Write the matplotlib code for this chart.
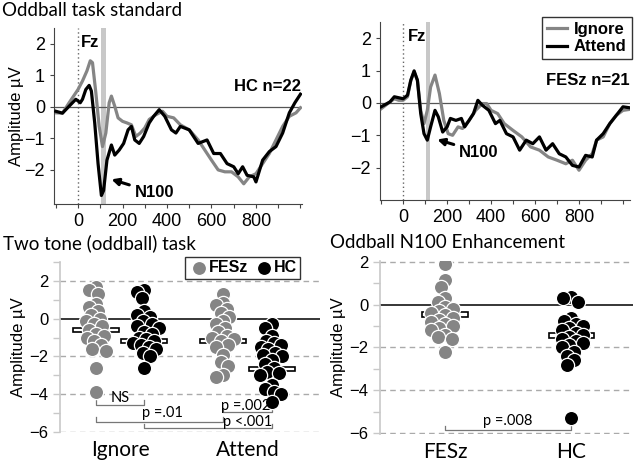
import matplotlib
matplotlib.use("Agg")
import matplotlib.pyplot as plt
import numpy as np
from matplotlib.patches import Rectangle

plt.rcParams["font.family"] = ["Liberation Sans", "DejaVu Sans"]

# ---- ERP waveforms at Fz (time in ms, amplitude in uV) ----
hc_ign_t = [-100, -70, -40, 0, 20, 40, 55, 65, 80, 95, 110, 125, 140, 150, 165, 180, 200, 220, 240,
            260, 280, 300, 320, 350, 380, 400, 430, 460, 500, 540, 570, 600, 630, 660, 690, 720, 745,
            770, 800, 830, 860, 890, 920, 950, 980, 1000]
hc_ign_v = [-0.19, -0.2, 0.13, 0.55, 0.82, 1.14, 1.46, 1.4, 0.45, -0.62, -1.26, -0.83, 0.13, 0.34, 0.02,
            -0.35, -0.46, -0.51, -0.57, -0.94, -0.83, -0.67, -0.4, -0.25, -0.14, -0.3, -0.35, -0.57,
            -0.73, -1.05, -1.37, -1.69, -2.0, -2.06, -2.06, -2.22, -2.44, -2.22, -2.12, -1.8, -1.48,
            -1.05, -0.62, -0.3, -0.19, -0.03]
hc_att_t = [-100, -70, -40, -10, 10, 20, 35, 50, 60, 75, 90, 105, 115, 130, 150, 165, 185, 205, 225,
            240, 255, 275, 295, 320, 340, 365, 390, 420, 440, 460, 500, 540, 580, 610, 640, 670, 700,
            720, 740, 760, 790, 800, 830, 860, 890, 920, 950, 975, 1000]
hc_att_v = [-0.14, -0.2, 0.02, 0.24, 0.13, 0.24, 0.55, 0.68, 0.5, -0.51, -1.8, -2.81, -2.65, -1.69,
            -1.21, -1.53, -1.37, -1.16, -0.73, -0.62, -1.05, -1.16, -0.94, -0.51, -0.3, -0.09, -0.3,
            -0.73, -0.83, -0.62, -0.73, -1.16, -1.05, -1.48, -1.48, -1.8, -1.9, -2.12, -1.9, -2.17,
            -2.22, -2.38, -1.69, -1.42, -1.26, -0.83, -0.19, 0.13, 0.4]

fe_ign_t = [-100, -60, -40, -20, 0, 20, 35, 50, 65, 80, 95, 110, 125, 145, 165, 185, 205, 225, 250,
            270, 300, 330, 360, 380, 400, 430, 460, 500, 540, 580, 620, 660, 700, 740, 770, 800, 830,
            860, 880, 910, 940, 970, 1000, 1030]
fe_ign_v = [-0.18, 0.03, 0.13, 0.08, 0.08, 0.19, 0.7, 0.96, 0.7, -0.23, -0.64, -0.23, 0.49, 0.86,
            0.29, -0.54, -0.95, -1.0, -0.74, -0.79, -0.54, -0.23, -0.02, -0.02, -0.23, -0.33, -0.64,
            -0.85, -1.05, -1.36, -1.46, -1.67, -1.77, -1.88, -1.77, -2.08, -1.77, -1.57, -1.15, -1.05,
            -0.64, -0.38, -0.23, -0.2]
fe_att_t = [-100, -60, -40, 0, 20, 35, 50, 65, 80, 95, 110, 125, 145, 160, 180, 200, 215, 240, 265,
            280, 300, 320, 340, 360, 390, 420, 440, 470, 500, 530, 560, 590, 620, 650, 680, 710, 740,
            770, 800, 830, 860, 880, 910, 940, 970, 1000, 1030]
fe_att_v = [-0.12, 0.03, 0.19, 0.13, 0.24, 0.7, 0.99, 0.7, -0.33, -0.95, -1.15, -0.74, -0.23, -0.43,
            -0.9, -0.74, -0.48, -0.54, -0.48, -0.74, -0.54, -0.33, 0.08, -0.07, -0.23, -0.64, -0.54,
            -0.95, -1.05, -1.46, -1.15, -1.26, -1.05, -1.46, -1.26, -1.57, -1.67, -1.93, -1.98, -1.62,
            -1.67, -1.15, -0.95, -0.64, -0.38, -0.12, -0.15]

# ---- N100 amplitudes per subject (uV) ----
conditions = ["Ignore", "Attend"]
groups = ["FESz", "HC"]
fesz_ignore = [1.7, 1.5, 1.3, 0.8, 0.6, 0.4, 0.2, 0.0, -0.1, -0.3, -0.4, -0.6, -0.8, -0.9, -1.0,
               -1.2, -1.4, -1.6, -1.7, -2.6, -3.9]
hc_ignore = [1.5, 1.4, 1.1, 0.4, 0.2, 0.1, -0.1, -0.3, -0.4, -0.5, -0.7, -0.8, -1.0, -1.1, -1.2,
             -1.3, -1.4, -1.5, -1.6, -1.8, -2.0, -2.6]
fesz_attend = [1.3, 0.85, 0.75, 0.5, 0.3, 0.1, -0.1, -0.3, -0.5, -0.7, -0.9, -1.0, -1.1, -1.2,
               -1.4, -1.5, -1.9, -2.3, -2.5, -3.0, -3.1]
hc_attend = [-0.3, -0.5, -0.9, -1.2, -1.3, -1.4, -1.5, -1.6, -1.8, -1.9, -2.0, -2.2, -2.4, -2.6,
             -2.8, -2.9, -3.0, -3.5, -3.7, -3.9, -4.0, -4.4]
task_means = [-0.6, -1.18, -1.2, -2.68]   # FESz-Ign, HC-Ign, FESz-Att, HC-Att

# attend minus ignore enhancement
fesz_enh = [1.9, 1.15, 0.85, 0.3, 0.15, -0.1, -0.2, -0.3, -0.4, -0.5, -0.6, -0.7, -0.8, -0.9,
            -1.0, -1.1, -1.2, -1.4, -1.5, -1.6, -2.2]
hc_enh = [0.35, 0.3, 0.15, -0.6, -0.75, -0.9, -1.0, -1.1, -1.2, -1.3, -1.4, -1.5, -1.6, -1.7,
          -1.8, -1.9, -2.0, -2.2, -2.4, -2.6, -2.8, -5.3]
enh_means = [-0.45, -1.42]

GRAY = "#858585"
title_font = ["Lato", "DejaVu Sans"]


def swarm_offsets(ax, values, diameter_px, overlap=0.56):
    # simple beeswarm in pixel space, returns x offsets in data units
    fig = ax.figure
    pos = ax.get_position()
    w_px = pos.width * fig.get_figwidth() * fig.dpi
    h_px = pos.height * fig.get_figheight() * fig.dpi
    x0, x1 = ax.get_xlim()
    y0, y1 = ax.get_ylim()
    px_x = w_px / (x1 - x0)
    px_y = h_px / (y1 - y0)
    d = diameter_px * overlap
    values = np.asarray(values, dtype=float)
    offsets = np.zeros(len(values))
    placed = []
    for i in np.argsort(values)[::-1]:
        y = values[i] * px_y
        forbidden = []
        for xj, yj in placed:
            dy = abs(y - yj)
            if dy < d:
                half = np.sqrt(d * d - dy * dy)
                forbidden.append((xj - half, xj + half))
        cands = [0.0] + [a for a, b in forbidden] + [b for a, b in forbidden]
        cands.sort(key=lambda c: (abs(c), c))
        x = 0.0
        for c in cands:
            if all(not (a + 1e-6 < c < b - 1e-6) for a, b in forbidden):
                x = c
                break
        placed.append((x, y))
        offsets[i] = x / px_x
    return offsets


def erp_panel(ax, t_ign, v_ign, t_att, v_att, xlim, ylim):
    ax.set_xlim(*xlim)
    ax.set_ylim(*ylim)
    ax.axvspan(102, 124, color="#c8c8c8", lw=0, zorder=0)
    ax.axvline(0, color="#666666", ls=(0, (1, 2)), lw=1.0, zorder=1)
    ax.axhline(0, color="#555555", lw=0.9, zorder=1)
    ax.plot(t_ign, v_ign, color=GRAY, lw=2.3, label="Ignore", zorder=2)
    ax.plot(t_att, v_att, color="black", lw=2.3, label="Attend", zorder=3)
    for s in ["top", "right"]:
        ax.spines[s].set_visible(False)
    for s in ["left", "bottom"]:
        ax.spines[s].set_color("#444444")
        ax.spines[s].set_linewidth(0.8)
    ax.set_xticks([0, 200, 400, 600, 800])
    ax.set_xticks(np.arange(-100, 1001, 100), minor=True)
    ax.set_yticks([-2, -1, 0, 1, 2])
    ax.tick_params(which="both", colors="#444444", labelcolor="black", labelsize=13,
                   length=3, width=0.8)
    ax.tick_params(axis="x", which="minor", length=3)


def dot_panel(ax, xlim, ylim, yticks):
    ax.set_xlim(*xlim)
    ax.set_ylim(*ylim)
    for y in [2, -2, -4, -6]:
        ax.axhline(y, color="#aaaaaa", ls=(0, (4, 3)), lw=1.0, zorder=0)
    ax.axhline(0, color="black", lw=1.1, zorder=1)
    for s in ["top", "right", "bottom"]:
        ax.spines[s].set_visible(False)
    ax.spines["left"].set_color("#c8c8c8")
    ax.spines["left"].set_linewidth(1.2)
    ax.set_yticks([2, 0, -2, -4, -6])
    ax.set_yticks(yticks, minor=True)
    ax.tick_params(axis="y", which="both", colors="#c8c8c8", labelcolor="black",
                   labelsize=12, length=5, width=1.0)
    ax.tick_params(axis="x", length=0, pad=6)
    ax.set_ylabel("Amplitude µV", fontsize=12, labelpad=2)


def draw_group(ax, cx, values, mean, color, box_h):
    ax.add_patch(Rectangle((cx - 0.18, mean - box_h / 2), 0.36, box_h, facecolor="white",
                           edgecolor="black", lw=1.2, zorder=2))
    off = swarm_offsets(ax, values, 14)
    ax.scatter(cx + off, values, s=105, color=color, edgecolors="white", linewidths=0.9, zorder=3)


def bracket(ax, x0, x1, y, h, text, tx, ty):
    ax.plot([x0, x0, x1, x1], [y + h, y, y, y + h], color="#777777", lw=0.9, zorder=1)
    ax.text(tx, ty, text, ha="center", va="center", fontsize=10.5, family=title_font)


fig = plt.figure(figsize=(6.4, 4.67), dpi=100)

# ---- top left: HC waveforms ----
ax1 = fig.add_axes([0.0844, 0.5632, 0.3875, 0.3769])
erp_panel(ax1, hc_ign_t, hc_ign_v, hc_att_t, hc_att_v, (-108, 1007), (-3.08, 2.5))
ax1.set_ylabel("Amplitude µV", fontsize=12, labelpad=0)
ax1.text(14, 2.05, "Fz", fontsize=12, fontweight="bold", ha="left", va="center")
ax1.text(1000, 0.63, "HC n=22", fontsize=12, fontweight="bold", ha="right", va="center")
ax1.annotate("N100", xy=(150, -2.3), xytext=(255, -2.72), fontsize=12, fontweight="bold",
             ha="left", va="center",
             arrowprops=dict(arrowstyle="-|>", color="black", lw=2.2, mutation_scale=10,
                             shrinkA=2, shrinkB=0))
fig.text(0.003, 0.977, "Oddball task standard", fontsize=13.5, ha="left", va="center",
         family=title_font)

# ---- top right: FESz waveforms ----
ax2 = fig.add_axes([0.5938, 0.5717, 0.3906, 0.3812])
erp_panel(ax2, fe_ign_t, fe_ign_v, fe_att_t, fe_att_v, (-105, 1032), (-3.0, 2.5))
ax2.text(20, 2.05, "Fz", fontsize=12, fontweight="bold", ha="left", va="center")
ax2.text(1030, 0.7, "FESz n=21", fontsize=12, fontweight="bold", ha="right", va="center")
ax2.annotate("N100", xy=(155, -1.13), xytext=(255, -1.52), fontsize=12, fontweight="bold",
             ha="left", va="center",
             arrowprops=dict(arrowstyle="-|>", color="black", lw=2.2, mutation_scale=10,
                             shrinkA=2, shrinkB=0))
leg = ax2.legend(loc="upper right", bbox_to_anchor=(1.04, 1.075), frameon=True, fancybox=False,
                 edgecolor="black", handlelength=1.2, handletextpad=0.4, borderpad=0.3,
                 labelspacing=0.15, prop={"weight": "bold", "size": 12})
leg.get_frame().set_linewidth(1.0)

# ---- bottom left: two tone task ----
ax3 = fig.add_axes([0.0938, 0.0749, 0.4063, 0.3640])
dot_panel(ax3, (0.53, 2.57), (-6, 3), np.arange(-6, 4, 1))
ax3.set_xticks([1, 2])
ax3.set_xticklabels(conditions, fontsize=15, family=title_font)
task_sets = [fesz_ignore, hc_ignore, fesz_attend, hc_attend]
task_x = [0.81, 1.19, 1.81, 2.19]
task_cols = [GRAY, "black", GRAY, "black"]
for cx, vals, m, c in zip(task_x, task_sets, task_means, task_cols):
    draw_group(ax3, cx, vals, m, c, 0.22)
bracket(ax3, 0.81, 1.19, -4.55, 0.22, "NS", 1.0, -4.2)
bracket(ax3, 0.81, 1.81, -5.45, 0.22, "p =.01", 1.33, -5.0)
bracket(ax3, 1.19, 2.19, -5.8, 0.22, "p <.001", 2.0, -5.45)
bracket(ax3, 1.81, 2.19, -4.93, 0.22, "p =.002", 1.99, -4.6)
h_fe = ax3.scatter([], [], s=105, color=GRAY, edgecolors="white", label=groups[0])
h_hc = ax3.scatter([], [], s=105, color="black", edgecolors="white", label=groups[1])
leg3 = ax3.legend(handles=[h_fe, h_hc], loc="upper right", bbox_to_anchor=(0.955, 1.075), ncol=2,
                  frameon=True, fancybox=False, edgecolor="black", handletextpad=0.0,
                  columnspacing=0.3, borderpad=0.2, handlelength=1.3,
                  prop={"weight": "bold", "size": 11.5})
leg3.get_frame().set_linewidth(1.0)
fig.text(0.005, 0.48, "Two tone (oddball) task", fontsize=13.5, ha="left", va="center",
         family=title_font)

# ---- bottom right: enhancement ----
ax4 = fig.add_axes([0.5938, 0.0707, 0.3953, 0.3704])
dot_panel(ax4, (0.484, 2.49), (-6.05, 2.05), np.arange(-6, 3, 1))
ax4.set_xticks([1, 2])
ax4.set_xticklabels(groups, fontsize=15, family=title_font)
draw_group(ax4, 1, fesz_enh, enh_means[0], GRAY, 0.24)
draw_group(ax4, 2, hc_enh, enh_means[1], "black", 0.24)
bracket(ax4, 1, 2, -5.86, 0.2, "p =.008", 1.5, -5.44)
fig.text(0.516, 0.48, "Oddball N100 Enhancement", fontsize=13.5, ha="left", va="center",
         family=title_font)

fig.savefig("out.png", dpi=100)
